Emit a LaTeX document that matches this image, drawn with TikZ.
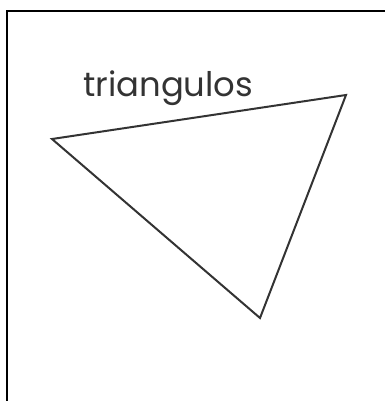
\documentclass[tikz,border=0pt]{standalone}
\usepackage{fontspec}
\setmainfont{Poppins}
\definecolor{ink}{HTML}{333333}
\tikzset{
  frame/.style={line width=2.6pt, black},
  tri/.style={line width=2pt, ink, line join=miter},
  title/.style={inner sep=0pt, anchor=base west, text=ink}
}
\begin{document}
\begin{tikzpicture}[x=1pt,y=-1pt]
\useasboundingbox (0,0) rectangle (385,401);
\coordinate (fb) at (7,401);
\coordinate (fc) at (7,11);
\coordinate (fr) at (385,11);
\draw[frame] (fb) -- (fc) -- (fr);
\coordinate (A) at (52,139);
\coordinate (B) at (346,95);
\coordinate (C) at (260,318);
\draw[tri] (A) -- (B) -- (C) -- cycle;
\node[title] (t) at (83,97) {\resizebox{170pt}{!}{\fontsize{28}{30}\selectfont triangulos}};
\end{tikzpicture}
\end{document}
